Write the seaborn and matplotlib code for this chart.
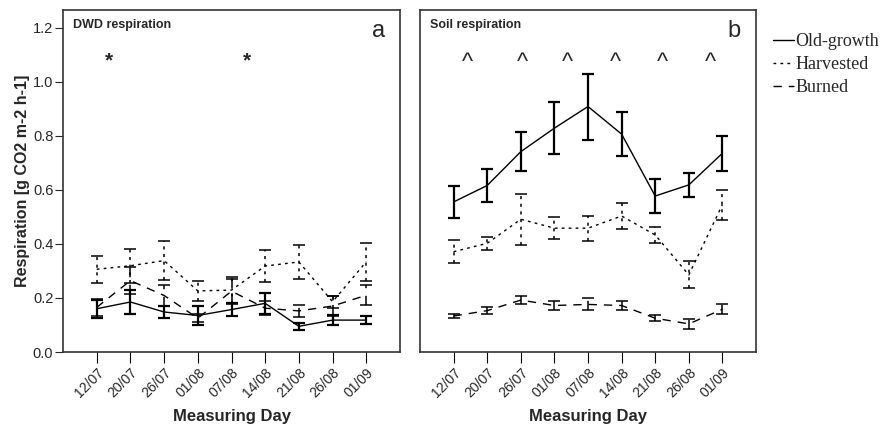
import numpy as np
import pandas as pd
import matplotlib
matplotlib.use("Agg")
import matplotlib.pyplot as plt
from matplotlib.lines import Line2D
import seaborn as sns

days = ["12/07", "20/07", "26/07", "01/08", "07/08", "14/08", "21/08", "26/08", "01/09"]
treatments = ["Old-growth", "Harvested", "Burned"]

dwd_old = [0.160, 0.185, 0.148, 0.135, 0.157, 0.180, 0.095, 0.118, 0.118]
dwd_old_err = [0.033, 0.043, 0.023, 0.035, 0.023, 0.038, 0.014, 0.019, 0.015]
dwd_harv = [0.306, 0.319, 0.338, 0.226, 0.229, 0.318, 0.333, 0.186, 0.334]
dwd_harv_err = [0.050, 0.063, 0.073, 0.037, 0.050, 0.060, 0.062, 0.022, 0.070]
dwd_burn = [0.165, 0.264, 0.209, 0.125, 0.225, 0.162, 0.152, 0.170, 0.210]
dwd_burn_err = [0.030, 0.050, 0.040, 0.015, 0.045, 0.025, 0.023, 0.037, 0.038]

soil_old = [0.555, 0.616, 0.741, 0.828, 0.908, 0.806, 0.577, 0.618, 0.735]
soil_old_err = [0.058, 0.060, 0.071, 0.095, 0.122, 0.081, 0.062, 0.045, 0.065]
soil_harv = [0.371, 0.402, 0.491, 0.458, 0.458, 0.503, 0.433, 0.285, 0.545]
soil_harv_err = [0.042, 0.025, 0.094, 0.040, 0.046, 0.047, 0.030, 0.050, 0.055]
soil_burn = [0.133, 0.153, 0.192, 0.172, 0.176, 0.172, 0.125, 0.104, 0.158]
soil_burn_err = [0.009, 0.014, 0.015, 0.017, 0.022, 0.016, 0.011, 0.018, 0.018]

dwd_marks_x = [0.35, 4.47]
soil_marks_x = [0.42, 2.06, 3.39, 4.83, 6.22, 7.65]
yticks = [0.0, 0.2, 0.4, 0.6, 0.8, 1.0, 1.2]

sns.set_style("white")
plt.rcParams['font.family'] = ['Liberation Sans', 'DejaVu Sans']

dash_map = {"Old-growth": "", "Harvested": (2, 3), "Burned": (6, 5)}
ls_map = {"Old-growth": "-", "Harvested": (0, (2, 3)), "Burned": (0, (6, 5))}
lw_err = {"Old-growth": 1.6, "Harvested": 1.1, "Burned": 1.1}

fig = plt.figure(figsize=(8.8, 4.29), dpi=100)
axL = fig.add_axes([63/880, 1-352/429, 337/880, 342/429])
axR = fig.add_axes([420/880, 1-352/429, 336/880, 342/429])

def build(means, errs):
    rows = []
    for t, m, e in zip(treatments, means, errs):
        for i, d in enumerate(days):
            rows.append({"pos": i, "day": d, "Treatment": t, "value": m[i], "err": e[i]})
    return pd.DataFrame(rows)

dfL = build([dwd_old, dwd_harv, dwd_burn], [dwd_old_err, dwd_harv_err, dwd_burn_err])
dfR = build([soil_old, soil_harv, soil_burn], [soil_old_err, soil_harv_err, soil_burn_err])

narrow = ['Liberation Sans Narrow', 'Liberation Sans', 'DejaVu Sans']

for ax, df, title, letter, mx, mark in [
        (axL, dfL, "DWD respiration", "a", dwd_marks_x, "*"),
        (axR, dfR, "Soil respiration", "b", soil_marks_x, "^")]:
    sns.lineplot(data=df, x="pos", y="value", style="Treatment", dashes=dash_map,
                 color="black", linewidth=1.0, ax=ax, legend=False, estimator=None)
    for t in treatments:
        sub = df[df["Treatment"] == t]
        cont = ax.errorbar(sub["pos"], sub["value"], yerr=sub["err"], fmt="none",
                           ecolor="black", elinewidth=lw_err[t], capsize=4,
                           capthick=lw_err[t])
        for bl in cont[2]:
            bl.set_linestyle(ls_map[t])
    ax.set_xlim(-1.0, 9.0)
    ax.set_ylim(0, 1.265)
    ax.set_xticks(range(len(days)))
    ax.set_xticklabels(days, rotation=45, ha="right", rotation_mode="anchor",
                       fontsize=10, family=narrow)
    ax.tick_params(axis="x", length=8, width=0.8, color="black", pad=2, bottom=True)
    ax.set_xlabel("Measuring Day", fontsize=12, fontweight="bold", family=narrow, labelpad=6)
    for s in ax.spines.values():
        s.set_color("#333333")
        s.set_linewidth(1.2)
    ax.text(0.03, 0.975, title, transform=ax.transAxes, fontsize=9, fontweight="bold",
            ha="left", va="top")
    ax.text(0.955, 0.97, letter, transform=ax.transAxes, fontsize=17,
            ha="right", va="top")
    for xm in mx:
        if mark == "*":
            ax.text(xm, 1.077, "*", fontsize=15, fontweight="bold", ha="center", va="center")
        else:
            ax.text(xm, 1.07, "^", fontsize=17, ha="center", va="center")

axL.set_yticks(yticks)
axL.set_yticklabels([f"{v:.1f}" for v in yticks], fontsize=10.5)
axL.tick_params(axis="y", left=True, length=6, width=0.8, pad=1)
axL.set_ylabel("Respiration [g CO2 m-2 h-1]", fontsize=11.5, fontweight="bold", labelpad=2)
axR.set_yticks([])
axR.set_ylabel("")

handles = [Line2D([], [], color="black", lw=1.0, linestyle=ls_map[t]) for t in treatments]
fig.legend(handles, treatments, loc="upper left", bbox_to_anchor=(0.870, 0.94),
           frameon=False, prop={"family": "Liberation Serif", "size": 13},
           handlelength=1.2, handletextpad=0.05, labelspacing=0.33, borderaxespad=0)

fig.savefig("out.png", dpi=100)
